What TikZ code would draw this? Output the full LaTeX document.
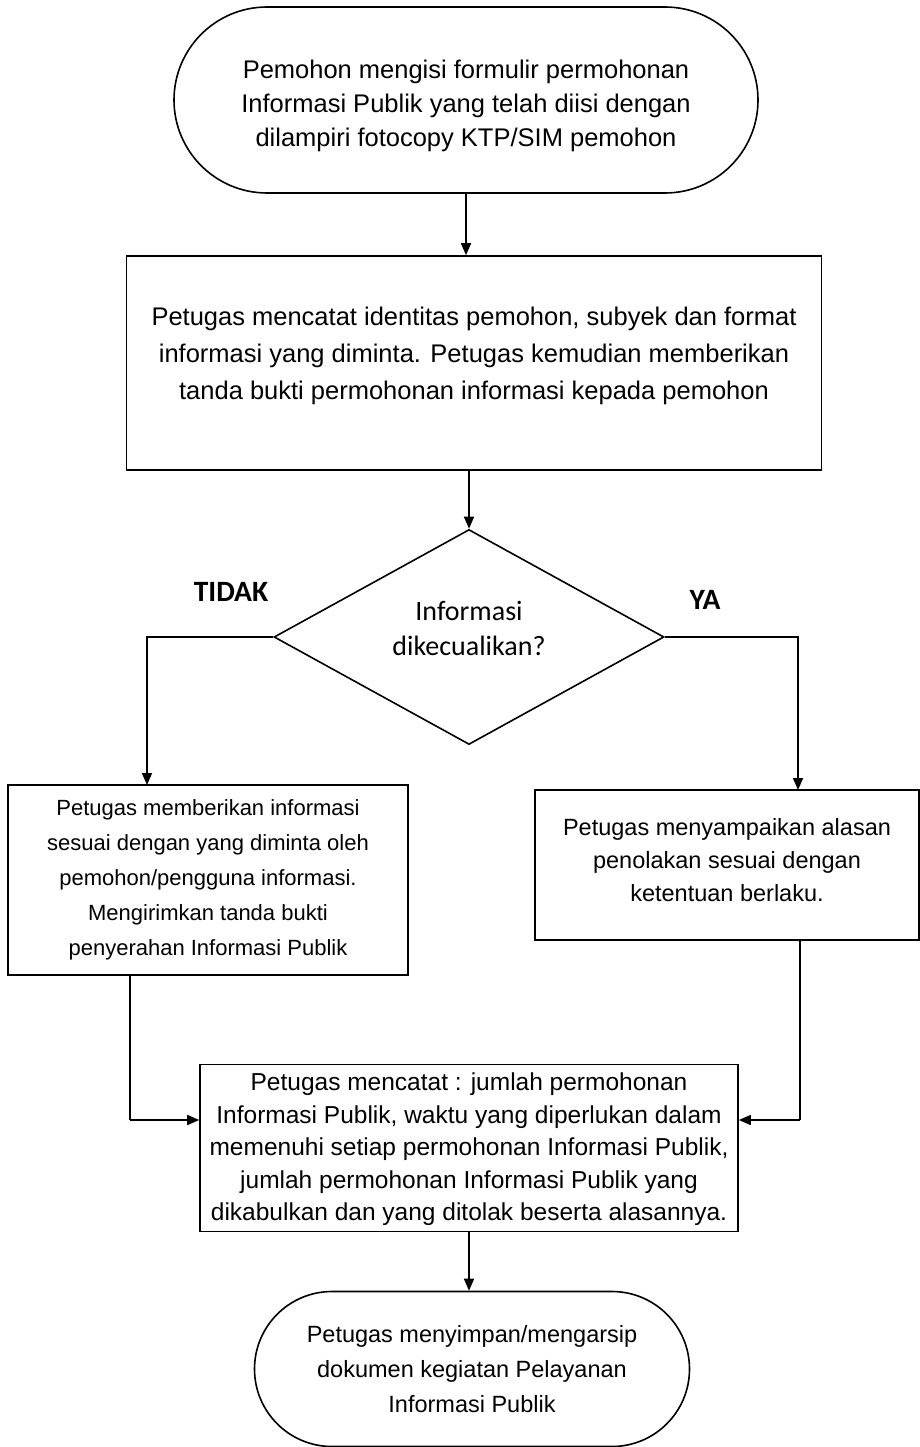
\documentclass[tikz,border=0pt]{standalone}
\usepackage{fontspec}
\setmainfont{Liberation Sans}
\newfontfamily\dfont{Carlito}
\usetikzlibrary{shapes.geometric,shapes.misc,arrows.meta}
\begin{document}
\begin{tikzpicture}[x=1pt,y=-1pt,
  every node/.style={align=center, inner sep=0pt},
  term/.style={draw, rounded rectangle, line width=1.6pt},
  box/.style={draw, rectangle, line width=1.6pt},
  dec/.style={draw, diamond, line width=1.6pt},
  dectxt/.style={font=\dfont\fontsize{28}{35}\selectfont},
  lbl/.style={font=\dfont\bfseries\fontsize{29.5}{30}\selectfont},
  ln/.style={line width=1.6pt},
  arr/.style={ln, -{Triangle[length=12pt,width=10pt]}}]
\useasboundingbox (0,0) rectangle (920,1447);

\node[term, minimum width=584pt, minimum height=186pt, font=\fontsize{25.5}{34}\selectfont] (t1) at (466,100)
  {\mbox{}\\[-4pt]Pemohon mengisi formulir permohonan\\Informasi Publik yang telah diisi dengan\\dilampiri fotocopy KTP/SIM pemohon};

\node[box, minimum width=695pt, minimum height=214pt, font=\fontsize{25.5}{37}\selectfont] (r1) at (474,363)
  {Petugas mencatat identitas pemohon, subyek dan format\\informasi yang diminta. Petugas kemudian memberikan\\tanda bukti permohonan informasi kepada pemohon\\[-17pt]\mbox{}};

\node[dec, minimum width=390pt, minimum height=215pt] (d) at (469,637) {};
\node[dectxt] (dt) at (469,628) {Informasi\\dikecualikan?};

\node[lbl] (tidak) at (231,592) {TIDAK};
\node[lbl] (ya) at (705,600) {YA};

\node[box, minimum width=400pt, minimum height=190pt, font=\fontsize{22}{35}\selectfont] (lb) at (208,880)
  {Petugas memberikan informasi\\sesuai dengan yang diminta oleh\\pemohon/pengguna informasi.\\Mengirimkan tanda bukti\\penyerahan Informasi Publik};

\node[box, minimum width=384pt, minimum height=150pt, font=\fontsize{23.5}{33}\selectfont] (rb) at (727,865)
  {Petugas menyampaikan alasan\\penolakan sesuai dengan\\ketentuan berlaku.\\[-22pt]\mbox{}};

\node[box, minimum width=538pt, minimum height=167pt, font=\fontsize{24.5}{32.5}\selectfont] (mb) at (469,1148)
  {\mbox{}\\[-12pt]Petugas mencatat : jumlah permohonan\\Informasi Publik, waktu yang diperlukan dalam\\memenuhi setiap permohonan Informasi Publik,\\jumlah permohonan Informasi Publik yang\\dikabulkan dan yang ditolak beserta alasannya.};

\node[term, minimum width=435pt, minimum height=155pt, font=\fontsize{23.5}{35}\selectfont] (t2) at (472,1369)
  {Petugas menyimpan/mengarsip\\dokumen kegiatan Pelayanan\\Informasi Publik};

\coordinate (lin) at (147,785);
\coordinate (rin) at (798,790);
\coordinate (lout) at (130,975);
\coordinate (rout) at (800,940);
\coordinate (ljoin) at (130,1120);
\coordinate (rjoin) at (800,1120);

\draw[arr] (t1.south) -- (r1.north -| t1.south);
\draw[arr] (r1.south -| d.north) -- (d.north);
\draw[arr] (d.west) -| (lin);
\draw[arr] (d.east) -| (rin);
\draw[ln] (lout) -- (ljoin);
\draw[arr] (ljoin) -- (ljoin -| mb.west);
\draw[ln] (rout) -- (rjoin);
\draw[arr] (rjoin) -- (rjoin -| mb.east);
\draw[arr] (mb.south -| d.north) -- (t2.north -| d.north);
\end{tikzpicture}
\end{document}
